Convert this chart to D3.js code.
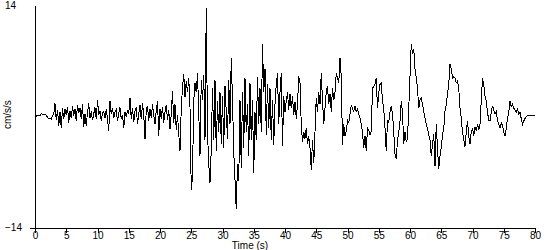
<!DOCTYPE html>
<html>
<head>
<meta charset="utf-8">
<script src="https://cdn.jsdelivr.net/npm/d3@7"></script>
<style>
  body { margin: 0; background: #fff; }
  text { font-family: "Liberation Sans Narrow", "Arial Narrow", "Liberation Sans", sans-serif; font-size: 10px; fill: #000; }
</style>
</head>
<body>
<svg id="plot"></svg>
<script>
// accelerogram samples (cm/s/s), one row per second
const sampleStep = 0.2;
const accel = [
  0.0, 0.0, 0.1, 0.05, 0.1,
  0.3, 0.25, 0.2, 0.3, 0.1,
  -0.1, -0.3, -0.2, -0.4, 0.1,
  0.3, 1.6, -0.5, 0.8, -1.2,
  0.5, -1.5, 1.0, -0.3, 0.9,
  0.2, 1.2, -0.8, 0.6, -0.2,
  1.3, 0.1, 0.9, -0.6, 1.4,
  0.4, 1.0, -0.4, 1.5, -1.4,
  0.3, -1.2, 0.5, 1.6, -0.2,
  0.6, -0.5, 0.3, 1.1, -0.3,
  2.0, 0.2, 0.7, -0.6, 0.4,
  0.6, -0.2, 0.9, -0.4, -1.8,
  1.9, 0.3, 1.0, -0.2, 0.5,
  0.8, -0.6, 0.4, 1.1, -0.3,
  0.2, -1.5, 0.5, 0.0, 0.7,
  0.4, 2.3, -0.3, 1.0, -0.7,
  0.6, 1.2, -1.0, 0.3, 1.4,
  -0.4, 1.6, 0.2, -2.9, 0.8,
  1.3, -0.6, 0.9, -0.2, 1.5,
  0.1, -1.0, 0.7, 1.9, -2.5,
  0.9, -0.3, 1.2, -0.8, 0.5,
  1.4, -0.5, 0.8, -1.6, 0.3,
  3.2, -0.9, 1.5, -1.7, 0.2,
  -2.2, -4.4, 1.0, 3.6, 5.3,
  2.4, 4.4, 3.0, 4.8, 1.2,
  -9.3, -7.6, 2.0, 4.2, 3.0,
  5.4, 0.5, -5.0, 4.5, 2.0,
  5.2, -3.0, 13.6, -2.0, -6.0,
  -8.4, -4.2, 3.5, -3.0, 4.6,
  -4.4, 1.9, -2.0, 3.0, -3.5,
  2.5, -4.0, 3.8, 0.5, -2.8,
  4.5, -1.0, 7.3, 2.0, -4.5,
  -8.0, -11.7, -6.0, -8.2, 2.0,
  -6.5, 3.0, -4.0, 4.8, -2.0,
  1.5, -5.0, 4.2, -3.0, 2.0,
  -7.2, 0.5, -3.0, 5.0, -1.0,
  3.5, -2.0, 9.1, 3.0, 6.0,
  -2.3, 4.0, -1.5, 3.5, -3.0,
  2.0, -3.6, 1.5, 4.0, 5.4,
  -1.0, 3.0, 5.4, -3.8, 2.5,
  0.5, 1.9, 3.0, 0.8, 2.8,
  1.0, 2.5, 0.2, 1.8, -0.3,
  1.5, 5.0, 4.2, -1.0, -3.2,
  -2.0, -2.8, -1.5, -3.5, -2.5,
  -4.0, -6.7, -3.0, -5.9, -2.0,
  2.3, 0.5, 3.0, 1.5, 5.4,
  2.0, -1.0, 1.0, 3.0, 3.8,
  1.5, 2.8, 0.6, 3.5, 2.0,
  3.0, 5.4, 4.8, 4.2, 7.3,
  5.0, -3.6, -1.0, -2.5, -1.9,
  -0.5, -0.8, 0.3, 1.3, 1.0,
  0.6, 1.3, 0.5, 1.0, 0.2,
  -0.25, -1.0, -2.0, -4.0, -2.5,
  -4.4, -1.5, -1.8, -2.3, -1.9,
  3.5, 3.8, 4.0, 4.8, 1.0,
  3.0, 4.0, 4.2, 2.0, 0.9,
  -1.5, -4.4, -0.6, -0.8, 0.5,
  1.3, 0.3, -2.0, -4.7, -5.4,
  -3.0, -2.0, -0.6, 1.9, 0.5,
  -3.5, -2.0, -3.2, -2.8, 1.0,
  5.0, 9.1, 7.8, 8.5, 6.0,
  4.8, 3.5, 1.0, 2.0, 2.3,
  1.5, 0.6, -0.2, -1.0, -1.5,
  -2.3, -3.0, -5.0, -3.5, -2.3,
  -6.3, -1.0, -4.0, -6.6, -5.0,
  -4.0, -2.3, -1.5, 0.6, 1.5,
  2.8, 4.0, 6.6, 6.0, 4.8,
  5.0, 4.8, 4.2, 4.4, 3.5,
  1.0, -0.25, -2.0, -3.0, -3.8,
  -2.0, -0.6, -2.5, -3.5, -2.0,
  -1.5, -2.5, -1.3, -1.8, -1.0,
  -1.7, -1.0, 2.0, 4.8, 4.0,
  2.5, 1.9, 0.5, -0.5, -0.6,
  0.5, 1.3, 0.8, 0.25, 0.6,
  -0.5, -1.0, -1.5, -0.8, -1.2,
  -2.0, -2.5, -1.5, -0.25, 0.5,
  1.9, 1.2, 1.5, 1.0, 0.8,
  0.5, 0.9, 0.25, 0.5, -0.3,
  -1.0, -0.6, -0.3, 0.0, 0.05,
  0.05, 0.1, 0.1, 0.1, 0.15,
  0.1
];
const xTicks = [0, 5, 10, 15, 20, 25, 30, 35, 40, 45, 50, 55, 60, 65, 70, 75, 80];
const yTicks = [-14, 14];
const xTitle = "Time (s)";
const yTitle = "cm/s/s";

// dimensions
const margin = { top: 5, right: 15, bottom: 22.5, left: 35 },
  width = 550 - margin.left - margin.right,
  height = 250 - margin.top - margin.bottom;

const svg = d3.select("#plot")
    .attr("width", 550)
    .attr("height", 250)
  .append("g")
    .attr("transform", "translate(" + margin.left + "," + margin.top + ")");

const x = d3.scaleLinear()
  .domain([0, 80])
  .range([0, width]);

const y = d3.scaleLinear()
  .domain([-14, 14])
  .range([height, 0]);

// x axis
const xAxis = svg.append("g")
  .attr("transform", "translate(0," + height + ")")
  .call(d3.axisBottom(x).tickValues(xTicks).tickSize(5).tickSizeOuter(0).tickPadding(0));
xAxis.selectAll(".tick text").attr("dy", "0.62em");

// y axis, labels pushed to the left edge
const yAxis = svg.append("g")
  .call(d3.axisLeft(y).tickValues(yTicks).tickSize(5).tickSizeOuter(0));
yAxis.selectAll(".tick text")
  .attr("text-anchor", "start")
  .attr("x", -margin.left + 5);
yAxis.selectAll(".tick")
  .filter(d => d === 14)
  .select("line").remove();

svg.selectAll(".domain, .tick line")
  .attr("stroke", "#000")
  .attr("shape-rendering", "crispEdges");
svg.selectAll(".tick text")
  .attr("font-family", null)
  .attr("font-size", null);

// trace
const line = d3.line()
  .x((d, i) => x(i * sampleStep))
  .y(d => y(d));

svg.append("path")
  .datum(accel)
  .attr("fill", "none")
  .attr("stroke", "#000")
  .attr("stroke-width", 1)
  .attr("shape-rendering", "crispEdges")
  .attr("d", line);

// axis titles
svg.append("text")
  .attr("x", x(34.4))
  .attr("y", height + 21.5)
  .attr("text-anchor", "middle")
  .text(xTitle);

svg.append("text")
  .attr("transform", "translate(" + (-margin.left + 11) + "," + y(0.2) + ") rotate(-90)")
  .attr("text-anchor", "middle")
  .text(yTitle);
</script>
</body>
</html>
